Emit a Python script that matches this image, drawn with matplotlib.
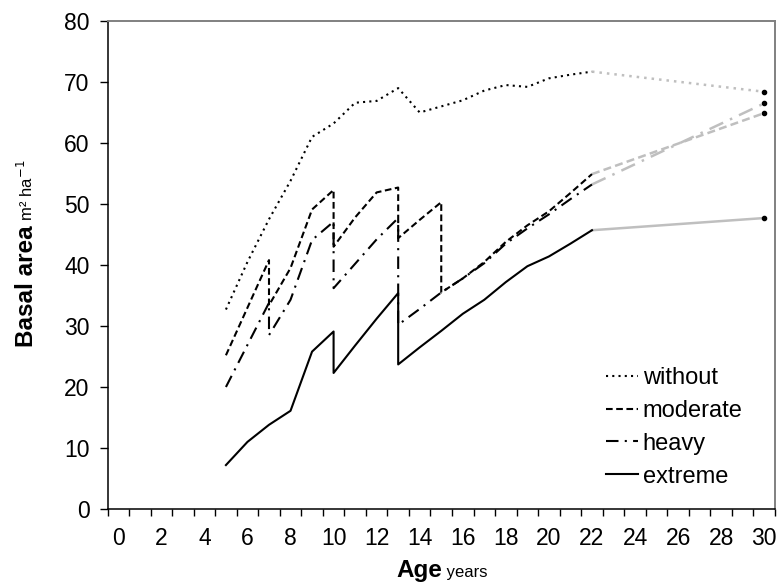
import matplotlib
matplotlib.use("Agg")
import matplotlib.pyplot as plt
import numpy as np

plt.rcParams['font.family'] = ['Liberation Sans', 'DejaVu Sans']

# ---- data ----
age_without = [5, 6, 7, 8, 9, 10, 11, 12, 13, 14, 15, 16, 17, 18, 19, 20, 21, 22]
without = [32.7, 40.5, 47.5, 53.8, 61.0, 63.2, 66.6, 66.9, 69.0, 65.0, 66.0, 67.0,
           68.6, 69.5, 69.2, 70.6, 71.2, 71.7]

age_moderate = [5, 6, 7, 7, 8, 9, 10, 10, 11, 12, 13, 13, 14, 15, 15, 16, 17, 18, 19, 20, 21, 22]
moderate = [25.2, 33.0, 40.8, 33.4, 39.5, 49.1, 52.3, 43.0, 47.8, 51.9, 52.7, 44.4, 47.4,
            50.3, 35.5, 37.8, 40.5, 43.8, 46.5, 48.8, 51.8, 54.9]

age_heavy = [5, 6, 7, 7, 8, 9, 10, 10, 11, 12, 13, 13, 14, 15, 16, 17, 18, 19, 20, 21, 22]
heavy = [20.0, 26.9, 33.8, 28.5, 34.3, 44.1, 47.1, 36.2, 40.2, 44.2, 47.7, 30.2, 32.8,
         35.5, 37.8, 40.3, 43.5, 46.0, 48.3, 50.8, 53.2]

age_extreme = [5, 6, 7, 8, 9, 10, 10, 11, 12, 13, 13, 14, 15, 16, 17, 18, 19, 20, 21, 22]
extreme = [7.2, 11.0, 13.8, 16.1, 25.8, 29.1, 22.3, 26.8, 31.2, 35.4, 23.7, 26.5, 29.2,
           32.0, 34.3, 37.2, 39.8, 41.4, 43.5, 45.7]

proj_age = [22, 30]
without_proj = [71.7, 68.4]
moderate_proj = [54.9, 64.9]
heavy_proj = [53.2, 66.5]
extreme_proj = [45.7, 47.7]

labels = ['without', 'moderate', 'heavy', 'extreme']
xtick_vals = list(range(0, 31, 2))
ytick_vals = list(range(0, 81, 10))

# ---- figure ----
W, H = 780, 584
fig = plt.figure(figsize=(W / 100, H / 100), dpi=100)
ax = fig.add_axes([107.5 / W, 1 - 509 / H, (775 - 107.5) / W, (509 - 21) / H])

lw = 1.5
styles = {
    'without': (0, (1, 2)),
    'moderate': (0, (3.2, 1.7)),
    'heavy': (0, (6, 3, 1, 3)),
    'extreme': '-',
}
series = [
    ('without', age_without, without, without_proj),
    ('moderate', age_moderate, moderate, moderate_proj),
    ('heavy', age_heavy, heavy, heavy_proj),
    ('extreme', age_extreme, extreme, extreme_proj),
]
gray = '#BFBFBF'
for name, xs, ys, pj in series:
    ax.plot(proj_age, pj, color=gray, lw=lw + 0.3, linestyle=styles[name], zorder=2)
    ax.plot([proj_age[-1]], [pj[-1]], 'o', color='black', ms=3, zorder=3)
for name, xs, ys, pj in series:
    ax.plot(xs, ys, color='black', lw=lw, linestyle=styles[name], label=name, zorder=4)

ax.set_xlim(-0.5, 30.5)
ax.set_ylim(0, 80)

# x axis: tick marks between categories, labels at even ages
ax.set_xticks(np.arange(-0.5, 31, 1))
ax.set_xticklabels([])
ax.set_xticks(xtick_vals, minor=True)
ax.set_xticklabels([str(v) for v in xtick_vals], minor=True)
ax.tick_params(axis='x', which='major', direction='out', length=5, width=1, color='black')
ax.tick_params(axis='x', which='minor', length=0, pad=13, labelsize=16.5)

ax.set_yticks(ytick_vals)
ax.set_yticklabels([str(v) for v in ytick_vals])
ax.tick_params(axis='y', which='major', direction='out', length=6, width=1, pad=7, labelsize=16.5)

for s in ['left', 'bottom']:
    ax.spines[s].set_color('black')
    ax.spines[s].set_linewidth(1.1)
for s in ['top', 'right']:
    ax.spines[s].set_color('#808080')
    ax.spines[s].set_linewidth(1.4)

leg = ax.legend(loc='upper left', bbox_to_anchor=(606 / W, 1 - 367 / H),
                bbox_transform=fig.transFigure, frameon=False, fontsize=17,
                handlelength=1.35, handletextpad=0.2, labelspacing=0.46,
                borderpad=0, borderaxespad=0)

# ---- composite axis labels ----
fig.canvas.draw()
r = fig.canvas.get_renderer()

# x label
t1 = fig.text(0, 7 / H, 'Age', fontsize=17.5, fontweight='bold', ha='left', va='baseline')
t2 = fig.text(0, 7 / H, ' years', fontsize=12, ha='left', va='baseline')
w1 = t1.get_window_extent(r).width
w2 = t2.get_window_extent(r).width
cx = 442
x0 = cx - (w1 + w2) / 2
t1.set_x(x0 / W)
t2.set_x((x0 + w1) / W)

# y label
y1 = fig.text(33 / W, 0, 'Basal area', fontsize=17.5, fontweight='bold', rotation=90,
              rotation_mode='anchor', ha='left', va='baseline')
y2 = fig.text(33 / W, 0, ' m² ha$^{-1}$', fontsize=12, rotation=90,
              rotation_mode='anchor', ha='left', va='baseline')
h1 = y1.get_window_extent(r).height
h2 = y2.get_window_extent(r).height
cy = H - 253.5
y0 = cy - (h1 + h2) / 2
y1.set_y(y0 / H)
y2.set_y((y0 + h1) / H)

fig.savefig('out.png', dpi=100)
